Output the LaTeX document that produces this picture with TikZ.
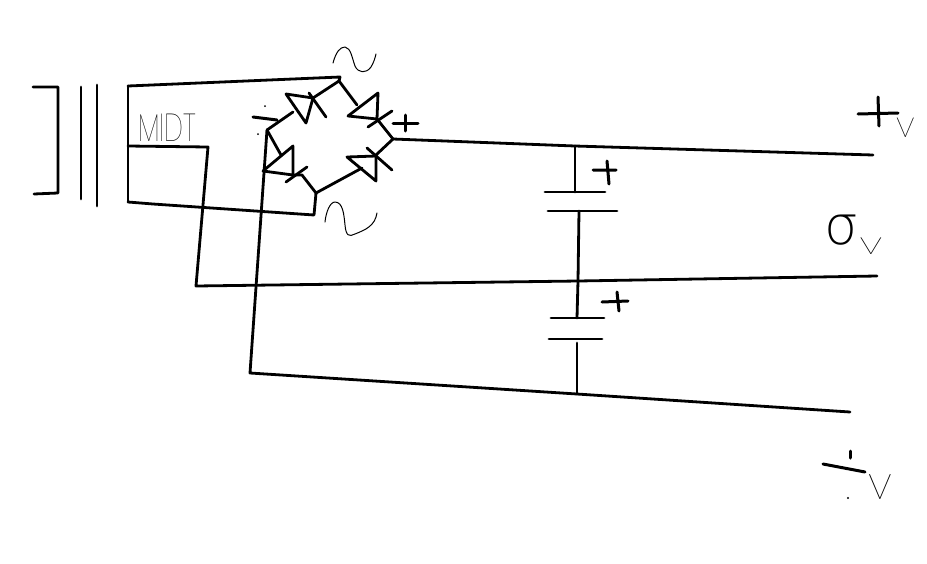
\documentclass[tikz,border=0pt]{standalone}
\usepackage{fontspec}
\newfontfamily\handfont{Poppins Thin}
\newfontfamily\handgreek{DejaVu Sans ExtraLight}
\tikzset{
  wire/.style={line width=2.8pt,line cap=round,line join=round,black},
  thickmark/.style={line width=3pt,line cap=round,black},
  thinstroke/.style={line width=1pt,line cap=round,line join=round,black},
  hand/.style={inner sep=0pt,outer sep=0pt,text=black,font=\handfont\fontsize{30}{30}\selectfont}
}
\begin{document}
\begin{tikzpicture}[x=1pt,y=-1pt]
\useasboundingbox (0,0) rectangle (927,563);
% named junctions
\coordinate (secT) at (128,86);
\coordinate (secM) at (128,146);
\coordinate (secB) at (128,202);
\coordinate (brT) at (340,77);
\coordinate (brTi) at (339,81);
\coordinate (brL) at (267,130);
\coordinate (brR) at (393,139);
\coordinate (brB) at (316,193);
\coordinate (acB) at (314,215);
\coordinate (midC) at (208,147);
\coordinate (midD) at (196,286);
\coordinate (negC) at (250,373);
\coordinate (posE) at (873,155);
\coordinate (zeroE) at (877,276);
\coordinate (negE) at (850,412);
\coordinate (posJ) at (575,146);
\coordinate (zeroJ) at (578,281);
\coordinate (negJ) at (577,394);
% transformer
\draw[wire] (33,87) -- (58,87) -- (58,193) -- (34,194);
\draw[wire] (81,87) -- (81,199);
\draw[wire] (97,85) -- (97,206);
\draw[wire] (secT) -- (secB);
% secondary connections
\draw[wire] (secT) -- (brT) -- (brTi);
\draw[wire] (secB) -- (153,204) -- (acB) -- (brB);
\draw[wire] (secM) -- (midC) -- (midD) -- (zeroJ) -- (zeroE);
\draw[wire] (brL) -- (negC) -- (negJ) -- (negE);
\draw[wire] (brR) -- (posJ) -- (posE);
% bridge: upper left diode
\draw[wire] (brL) -- (293,112);
\draw[wire] (286,94) -- (306,123) -- (313,98) -- cycle;
\draw[wire] (313,98) -- (brTi);
\draw[wire] (309,93) -- (326,117);
% upper right diode
\draw[wire] (brTi) -- (357,105);
\draw[wire] (378,93) -- (348,116) -- (377,119) -- cycle;
\draw[wire] (368,127) -- (392,111);
\draw[wire] (377,119) -- (brR);
% lower right diode
\draw[wire] (brR) -- (376,155);
\draw[wire] (347,157) -- (376,156) -- (376,181) -- cycle;
\draw[wire] (367,148) -- (392,170);
\draw[wire] (362,168) -- (brB);
% lower left diode
\draw[wire] (brL) -- (281,155);
\draw[wire] (293,146) -- (293,175) -- (263,171) -- cycle;
\draw[wire] (307,167) -- (286,182);
\draw[wire] (293,175) -- (302,175) -- (brB);
% capacitors
\draw[wire] (posJ) -- (575,192);
\draw[wire] (545,192) -- (605,192);
\draw[wire] (548,211) -- (617,211);
\draw[wire] (579,211) -- (zeroJ) -- (577,318);
\draw[wire] (551,318) -- (604,318);
\draw[wire] (549,339) -- (602,339);
\draw[wire] (577,343) -- (negJ);
% polarity marks
\draw[thickmark] (393,123) -- (418,123) (405,115) -- (405,131);
\draw[thickmark] (593,170) -- (616,170) (607,161) -- (609,184);
\draw[thickmark] (602,302) -- (628,301) (617,292) -- (619,311);
\draw[thickmark] (253,117) -- (277,120);
\fill (265,106) circle (1pt) (258,134) circle (1pt);
\draw[thickmark] (858,114) -- (898,113) (878,97) -- (879,126);
\draw[thickmark] (823,464) -- (865,472);
\draw[thickmark] (850,451) -- (850,458);
\fill (848,498) circle (1.2pt);
% ac waves
\draw[thinstroke] (333,63) .. controls (336,52) and (340,47) .. (345,47) .. controls (351,48) and (352,58) .. (355,66) .. controls (358,73) and (366,74) .. (371,67) .. controls (374,62) and (375,58) .. (376,54);
\draw[thinstroke] (325,222) .. controls (326,212) and (330,202) .. (335,202) .. controls (343,202) and (344,215) .. (345,225) .. controls (346,236) and (349,237) .. (355,234) .. controls (365,230) and (375,226) .. (377,213);
% handwritten labels
\node[hand,anchor=west,transform shape,xscale=.9,yscale=1.3] (midlabel) at (138,128) {MIDT};
\node[hand,font=\handfont\fontsize{36}{36}\selectfont] (vtop) at (906,128) {v};
\node[hand,font=\handgreek\fontsize{54}{54}\selectfont] (sigma) at (842,230) {σ};
\node[hand,font=\handfont\fontsize{44}{44}\selectfont,transform shape,yscale=.7] (vmid) at (871,246) {v};
\node[hand,font=\handfont\fontsize{46}{46}\selectfont] (vbot) at (880,487) {v};
\end{tikzpicture}
\end{document}
